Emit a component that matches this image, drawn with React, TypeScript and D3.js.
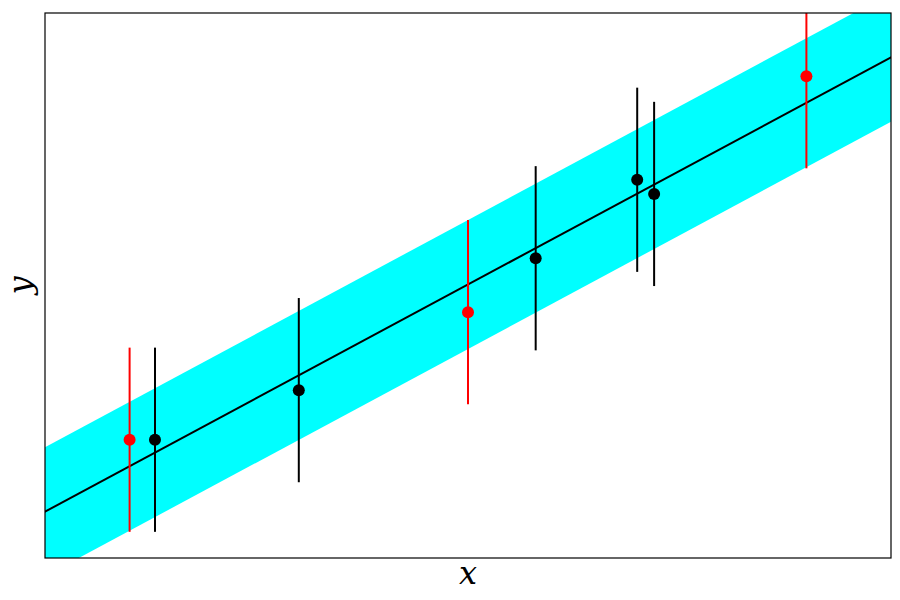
import React from "react";
import * as d3 from "d3";

const W = 900;
const H = 600;
const margin = { left: 45, right: 9, top: 13, bottom: 42 };

const xDomain: [number, number] = [0, 10];
const yDomain: [number, number] = [0, 10];

// Observed points (black) and highlighted points (red)
const blackX = [1.3, 3.0, 5.8, 7.0, 7.2];
const blackY = [2.17, 3.08, 5.5, 6.94, 6.68];
const redX = [1.0, 5.0, 9.0];
const redY = [2.17, 4.51, 8.84];
const errHalf = 1.69;

// Fit line and band
const fitIntercept = 0.85;
const fitSlope = 0.8337;
const bandHalf = 1.183;

export default function App() {
  const pw = W - margin.left - margin.right;
  const ph = H - margin.top - margin.bottom;
  const x = d3.scaleLinear().domain(xDomain).range([margin.left, margin.left + pw]);
  const y = d3.scaleLinear().domain(yDomain).range([margin.top + ph, margin.top]);

  const xs = [xDomain[0] - 1, xDomain[1] + 1];
  const fit = (v: number) => fitIntercept + fitSlope * v;
  const area = d3
    .area<number>()
    .x((d) => x(d))
    .y0((d) => y(fit(d) - bandHalf))
    .y1((d) => y(fit(d) + bandHalf));
  const line = d3
    .line<number>()
    .x((d) => x(d))
    .y((d) => y(fit(d)));

  const pts = [
    ...blackX.map((v, i) => ({ x: v, y: blackY[i], c: "#000000" })),
    ...redX.map((v, i) => ({ x: v, y: redY[i], c: "#ff0000" })),
  ];

  return (
    <svg width={W} height={H} style={{ position: "absolute", left: 0, top: 0, background: "#fff" }}>
      <defs>
        <clipPath id="plot">
          <rect x={margin.left} y={margin.top} width={pw} height={ph} />
        </clipPath>
      </defs>
      <g clipPath="url(#plot)">
        <path d={area(xs) || ""} fill="#00ffff" />
        <path d={line(xs) || ""} fill="none" stroke="#000" strokeWidth={2} />
        {pts.map((p, i) => (
          <g key={i}>
            <line
              x1={x(p.x)}
              x2={x(p.x)}
              y1={y(p.y - errHalf)}
              y2={y(p.y + errHalf)}
              stroke={p.c}
              strokeWidth={2}
            />
            <circle cx={x(p.x)} cy={y(p.y)} r={6} fill={p.c} />
          </g>
        ))}
      </g>
      <rect
        x={margin.left}
        y={margin.top}
        width={pw}
        height={ph}
        fill="none"
        stroke="#000"
        strokeWidth={1.2}
      />
      <text
        x={margin.left + pw / 2}
        y={584}
        textAnchor="middle"
        fontFamily="'DejaVu Serif', serif"
        fontStyle="italic"
        fontSize={32}
      >
        x
      </text>
      <text
        transform={`translate(31, ${margin.top + ph / 2}) rotate(-90)`}
        textAnchor="middle"
        fontFamily="'DejaVu Serif', serif"
        fontStyle="italic"
        fontSize={32}
      >
        y
      </text>
    </svg>
  );
}
